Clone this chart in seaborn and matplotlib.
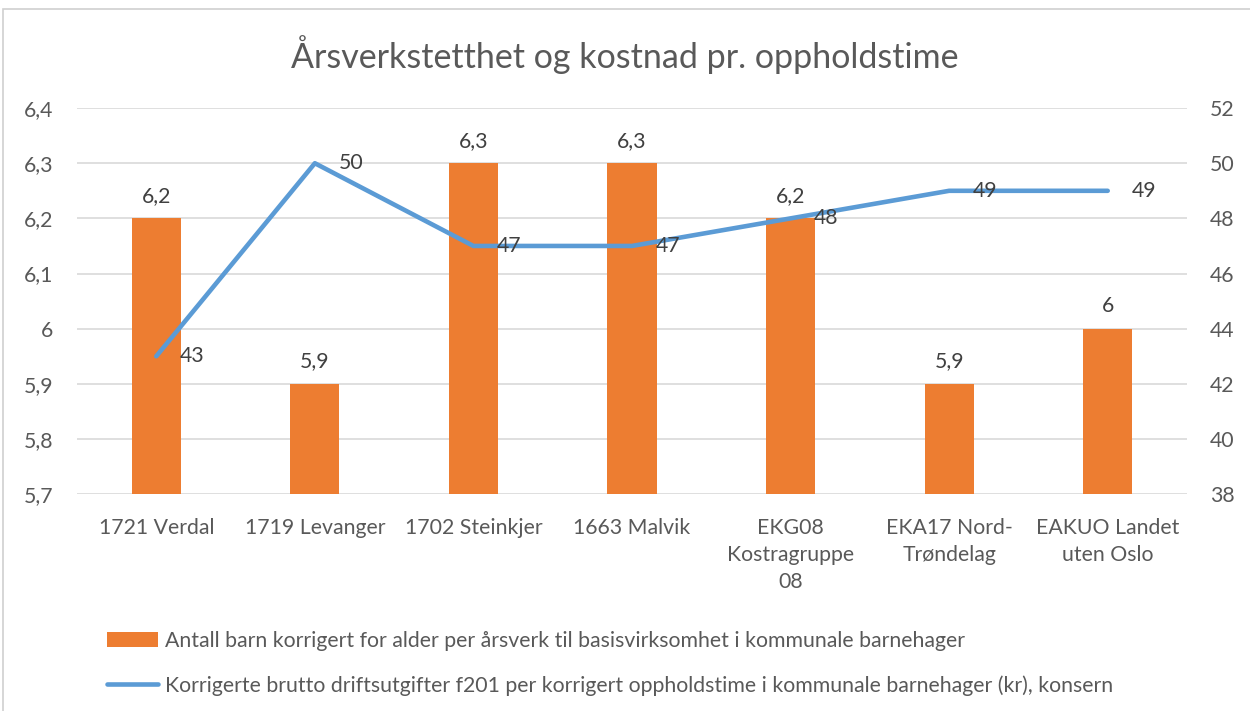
import numpy as np
import pandas as pd
import matplotlib
matplotlib.use("Agg")
import matplotlib.pyplot as plt
import seaborn as sns
from matplotlib.patches import Rectangle

categories = ["1721 Verdal", "1719 Levanger", "1702 Steinkjer", "1663 Malvik",
              "EKG08\nKostragruppe\n08", "EKA17 Nord-\nTrøndelag", "EAKUO Landet\nuten Oslo"]
bar_values = [6.2, 5.9, 6.3, 6.3, 6.2, 5.9, 6.0]
line_values = [43, 50, 47, 47, 48, 49, 49]
left_ticks = [5.7, 5.8, 5.9, 6.0, 6.1, 6.2, 6.3, 6.4]
right_ticks = [38, 40, 42, 44, 46, 48, 50, 52]
bar_name = "Antall barn korrigert for alder per årsverk til basisvirksomhet i kommunale barnehager"
line_name = "Korrigerte brutto driftsutgifter f201 per korrigert oppholdstime i kommunale barnehager (kr), konsern"
title = "Årsverkstetthet og kostnad pr. oppholdstime"

sns.set_theme(style="white")
plt.rcParams['font.family'] = ['Lato', 'DejaVu Sans']

ORANGE = "#ED7D31"
BLUE = "#5B9BD5"
TXT = "#595959"
LBL = "#404040"
GRID = "#D9D9D9"
FS = 15.3

df = pd.DataFrame({"cat": categories, "val": bar_values, "cost": line_values,
                   "pos": np.arange(len(categories))})

fig = plt.figure(figsize=(12.5, 7.11), dpi=100)
ax = fig.add_axes([0.0616, 0.305, 0.888, 0.543])

sns.barplot(data=df, x="cat", y="val", color=ORANGE, width=0.31, ax=ax,
            saturation=1, linewidth=0, label=bar_name, legend=False, zorder=2)
if ax.get_legend() is not None:
    ax.get_legend().remove()
ax.set_ylim(5.7, 6.4)
ax.set_yticks(left_ticks)
ax.set_yticklabels([("%g" % t).replace(".", ",") for t in left_ticks])
ax.set_xlim(-0.5, len(categories) - 0.5)
ax.grid(axis="y", color=GRID, linewidth=1.2, zorder=0)
ax.set_axisbelow(True)
for s in ax.spines.values():
    s.set_visible(False)
ax.set_xlabel("")
ax.set_ylabel("")
ax.tick_params(axis="both", length=0, colors=TXT, labelsize=FS)
ax.tick_params(axis="y", pad=17)
ax.tick_params(axis="x", pad=17)
for lbl in ax.get_xticklabels():
    lbl.set_linespacing(1.45)
    lbl.set_color(TXT)

for c in ax.containers:
    ax.bar_label(c, labels=[("%g" % v).replace(".", ",") for v in bar_values],
                 padding=9, fontsize=FS, color=LBL)

ax2 = ax.twinx()
sns.lineplot(data=df, x="pos", y="cost", color=BLUE, linewidth=3.3, ax=ax2,
             label=line_name, legend=False, zorder=3)
ax2.set_ylim(38, 52)
ax2.set_yticks(right_ticks)
ax2.set_ylabel("")
ax2.set_xlabel("")
ax2.set_xlim(-0.5, len(categories) - 0.5)
for s in ax2.spines.values():
    s.set_visible(False)
ax2.tick_params(axis="y", length=0, colors=TXT, labelsize=FS, pad=16.5)
for x, y in zip(df["pos"], line_values):
    ax2.annotate(str(y), (x, y), xytext=(17, 0), textcoords="offset points",
                 ha="left", va="center", fontsize=FS, color=LBL)

fig.text(0.5, 0.923, title, ha="center", va="center", fontsize=24.5, color=TXT)

h1, l1 = ax.get_legend_handles_labels()
h2, l2 = ax2.get_legend_handles_labels()
leg = fig.legend(h1 + h2, l1 + l2, loc="upper left", bbox_to_anchor=(0.079, 0.125),
                 frameon=False, fontsize=FS, handlelength=2.4, handletextpad=0.33,
                 labelspacing=1.15, labelcolor=TXT, borderaxespad=0)

fig.patches.append(Rectangle((3 / 1250, -0.05), 1.2, 1 - 9 / 711 + 0.05,
                             transform=fig.transFigure, fill=False,
                             edgecolor="#D0D0D0", linewidth=1.2))

fig.savefig("out.png", dpi=100)
